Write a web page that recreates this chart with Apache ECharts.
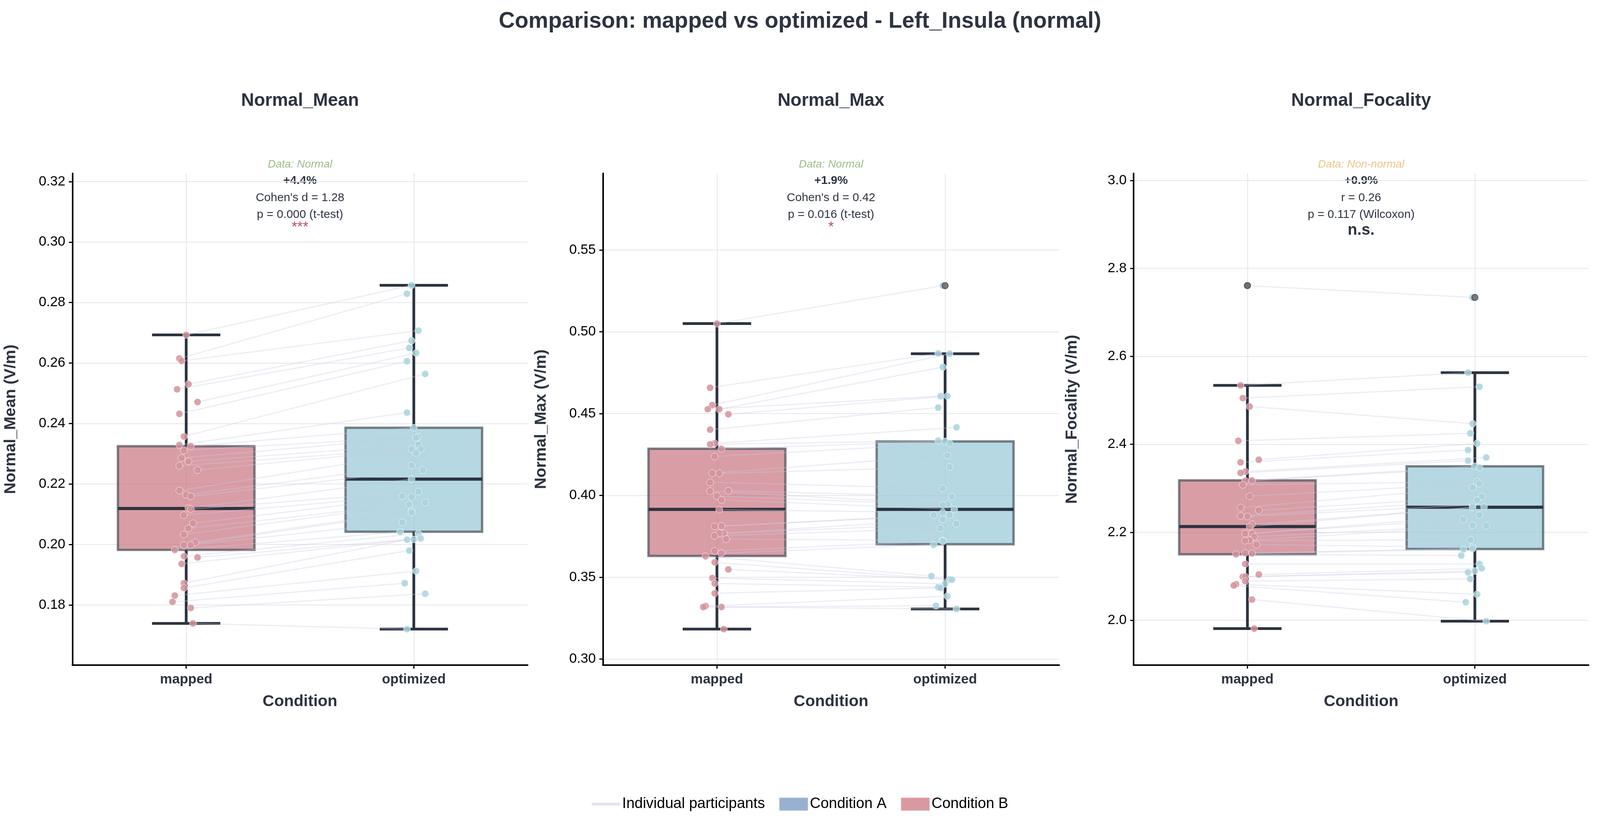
<!DOCTYPE html>
<html>
<head>
<meta charset="UTF-8">
<script src="https://cdn.jsdelivr.net/npm/echarts@6/dist/echarts.min.js"></script>
<style>
  html, body { margin: 0; padding: 0; background: #fff; overflow: hidden; }
  #chart { width: 100vw; height: 100vh; }
</style>
</head>
<body>
<div id="chart"></div>
<script>
// 数据
var categories = ['mapped', 'optimized'];
var panelTitles = ['Normal_Mean', 'Normal_Max', 'Normal_Focality'];
var meanMapped = [0.2693,0.2615,0.2607,0.2530,0.2513,0.2471,0.2432,0.2357,0.2329,0.2325,0.2311,0.2286,0.2275,0.2260,0.2246,0.2178,0.2164,0.2159,0.2120,0.2117,0.2097,0.2070,0.2053,0.2033,0.2007,0.1998,0.1998,0.1982,0.1961,0.1957,0.1936,0.1872,0.1856,0.1831,0.1810,0.1790,0.1739];
var meanOptimized = [0.2857,0.2829,0.2707,0.2674,0.2650,0.2633,0.2606,0.2564,0.2436,0.2386,0.2356,0.2353,0.2330,0.2316,0.2316,0.2303,0.2261,0.2246,0.2216,0.2175,0.2160,0.2157,0.2139,0.2131,0.2111,0.2106,0.2073,0.2041,0.2036,0.2020,0.2017,0.2016,0.1980,0.1912,0.1872,0.1837,0.1720];
var maxMapped = [0.5050,0.4658,0.4552,0.4527,0.4527,0.4496,0.4402,0.4318,0.4312,0.4285,0.4238,0.4137,0.4135,0.4080,0.4028,0.4026,0.3996,0.3973,0.3913,0.3813,0.3811,0.3768,0.3768,0.3753,0.3733,0.3661,0.3647,0.3628,0.3591,0.3548,0.3495,0.3462,0.3402,0.3324,0.3318,0.3318,0.3183];
var maxOptimized = [0.5282,0.4868,0.4866,0.4784,0.4607,0.4607,0.4537,0.4416,0.4334,0.4330,0.4318,0.4244,0.4174,0.4043,0.3993,0.3946,0.3942,0.3915,0.3895,0.3881,0.3879,0.3854,0.3827,0.3798,0.3725,0.3720,0.3698,0.3507,0.3487,0.3485,0.3460,0.3439,0.3435,0.3384,0.3326,0.3306];
var focMapped = [2.761,2.534,2.505,2.486,2.408,2.365,2.359,2.338,2.335,2.318,2.317,2.308,2.282,2.256,2.250,2.237,2.236,2.218,2.213,2.197,2.197,2.190,2.182,2.181,2.172,2.153,2.152,2.150,2.128,2.104,2.099,2.099,2.089,2.082,2.079,2.047,1.981];
var focOptimized = [2.734,2.563,2.531,2.447,2.425,2.402,2.387,2.370,2.363,2.350,2.347,2.315,2.311,2.302,2.281,2.273,2.262,2.258,2.257,2.239,2.229,2.216,2.215,2.183,2.166,2.163,2.161,2.147,2.128,2.118,2.112,2.109,2.094,2.059,2.041,1.998];
// 箱线图统计 [q1, median, q3, 下须, 上须]
var boxStats = [
  [[0.1982,0.2119,0.2325,0.1739,0.2693],[0.2042,0.2216,0.2386,0.1720,0.2857]],
  [[0.3630,0.3915,0.4285,0.3183,0.5050],[0.3702,0.3915,0.4330,0.3306,0.4866]],
  [[2.150,2.213,2.318,1.981,2.534],[2.162,2.257,2.350,1.998,2.563]]
];
var outliers = [[[],[]],[[],[0.5282]],[[2.761],[2.734]]];
var yTicks = [
  [0.18,0.20,0.22,0.24,0.26,0.28,0.30,0.32],
  [0.30,0.35,0.40,0.45,0.50,0.55],
  [2.0,2.2,2.4,2.6,2.8,3.0]
];
var yRange = [[0.1601,0.3227],[0.2963,0.5968],[1.898,3.016]];
var yDigits = [2, 2, 1];
var annotations = [
  ['Data: Normal', '+4.4%', "Cohen's d = 1.28", 'p = 0.000 (t-test)', '***'],
  ['Data: Normal', '+1.9%', "Cohen's d = 0.42", 'p = 0.016 (t-test)', '*'],
  ['Data: Non-normal', '+0.9%', 'r = 0.26', 'p = 0.117 (Wilcoxon)', 'n.s.']
];
var jitter = [0.0,-0.03,-0.02,0.01,-0.04,0.05,-0.03,-0.01,-0.03,0.02,-0.01,-0.02,0.01,-0.03,0.05,-0.03,0.0,0.02,0.01,0.02,-0.01,0.03,0.01,-0.01,0.04,-0.01,0.02,-0.05,-0.01,0.05,-0.02,-0.01,-0.01,-0.05,-0.06,0.02,0.03];

var panels = [[meanMapped, meanOptimized],[maxMapped, maxOptimized],[focMapped, focOptimized]];
var gridLeft = [203, 1691, 3180];
var gridWidth = [1277, 1280, 1276];
var TEXT = '#2d3340';
var fills = ['rgba(199,110,122,0.68)', 'rgba(150,200,213,0.7)'];
var dotColors = ['#d4939c', '#a9d3dd'];

var dom = document.getElementById('chart');
var W = dom.clientWidth, H = dom.clientHeight;
var sx = W / 4488, sy = H / 2138, k = Math.min(sx, sy);
function X(v) { return v * sx; }
function Y(v) { return v * sy; }
function F(v) { return Math.round(v * k); }

var grids = [], xAxes = [], yAxes = [], series = [], graphics = [];

panels.forEach(function (pair, p) {
  grids.push({ left: X(gridLeft[p]), width: X(gridWidth[p]), top: Y(444), height: Y(1259) });
  xAxes.push({
    gridIndex: p, type: 'value', min: -0.5, max: 1.5,
    name: 'Condition', nameLocation: 'middle', nameGap: F(80),
    nameTextStyle: { fontSize: F(45), fontWeight: 'bold', color: TEXT, fontFamily: 'Liberation Sans' },
    axisLine: { onZero: false, lineStyle: { color: '#000', width: F(4) } },
    axisTick: { show: true, length: F(10), customValues: [0, 1], lineStyle: { color: '#000', width: F(3) } },
    axisLabel: { customValues: [0, 1], margin: F(22), fontSize: F(38), fontWeight: 'bold', color: TEXT,
      fontFamily: 'Liberation Sans', formatter: function (v) { return categories[Math.round(v)]; } },
    splitLine: { show: true, lineStyle: { color: '#e6e6e6', width: F(2) } }
  });
  yAxes.push({
    gridIndex: p, type: 'value', min: yRange[p][0], max: yRange[p][1],
    name: panelTitles[p] + ' (V/m)', nameLocation: 'middle', nameGap: F(150),
    nameTextStyle: { fontSize: F(45), fontWeight: 'bold', color: TEXT, fontFamily: 'Liberation Sans' },
    axisLine: { show: true, onZero: false, lineStyle: { color: '#000', width: F(4) } },
    axisTick: { show: true, length: F(10), customValues: yTicks[p], lineStyle: { color: '#000', width: F(3) } },
    axisLabel: { customValues: yTicks[p], margin: F(20), fontSize: F(38), color: '#000', fontFamily: 'Liberation Sans',
      formatter: function (v) { return v.toFixed(yDigits[p]); } },
    splitLine: { show: true, lineStyle: { color: '#e6e6e6', width: F(2) } }
  });

  // 个体连线
  var pairs = [];
  var n = Math.min(pair[0].length, pair[1].length);
  for (var i = 0; i < n; i++) {
    pairs.push([0 + jitter[i], pair[0][i], 1 + jitter[(i + 7) % jitter.length], pair[1][i]]);
  }
  series.push({
    type: 'custom', xAxisIndex: p, yAxisIndex: p, z: 3, silent: true,
    data: pairs,
    renderItem: function (params, api) {
      var a = api.coord([api.value(0), api.value(1)]);
      var b = api.coord([api.value(2), api.value(3)]);
      return { type: 'line', shape: { x1: a[0], y1: a[1], x2: b[0], y2: b[1] },
        style: { stroke: 'rgba(200,204,226,0.35)', lineWidth: F(3) } };
    }
  });

  // 箱线
  series.push({
    type: 'custom', xAxisIndex: p, yAxisIndex: p, z: 2, silent: true,
    data: boxStats[p].map(function (s, c) { return [c].concat(s); }),
    renderItem: function (params, api) {
      var c = api.value(0);
      var q1 = api.coord([c, api.value(1)]), md = api.coord([c, api.value(2)]), q3 = api.coord([c, api.value(3)]);
      var lo = api.coord([c, api.value(4)]), hi = api.coord([c, api.value(5)]);
      var hw = api.size([0.3, 0])[0], cw = api.size([0.15, 0])[0];
      var x = q1[0];
      var dark = { stroke: TEXT, lineWidth: F(8) };
      return { type: 'group', children: [
        { type: 'line', shape: { x1: x, y1: lo[1], x2: x, y2: q1[1] }, style: dark },
        { type: 'line', shape: { x1: x, y1: q3[1], x2: x, y2: hi[1] }, style: dark },
        { type: 'line', shape: { x1: x - cw, y1: lo[1], x2: x + cw, y2: lo[1] }, style: dark },
        { type: 'line', shape: { x1: x - cw, y1: hi[1], x2: x + cw, y2: hi[1] }, style: dark },
        { type: 'rect', shape: { x: x - hw, y: q3[1], width: 2 * hw, height: q1[1] - q3[1] },
          style: { fill: fills[c], stroke: 'rgba(70,78,88,0.7)', lineWidth: F(7) } },
        { type: 'line', shape: { x1: x - hw, y1: md[1], x2: x + hw, y2: md[1] }, style: { stroke: TEXT, lineWidth: F(9) } }
      ] };
    }
  });

  // 散点
  [0, 1].forEach(function (c) {
    series.push({
      type: 'scatter', xAxisIndex: p, yAxisIndex: p, z: 4, silent: true, symbolSize: F(20),
      itemStyle: { color: dotColors[c], opacity: 0.85, borderColor: '#fff', borderWidth: F(1.5) },
      data: pair[c].map(function (v, i) { return [c + jitter[(i + c * 7) % jitter.length], v]; })
    });
    series.push({
      type: 'scatter', xAxisIndex: p, yAxisIndex: p, z: 5, silent: true, symbolSize: F(18),
      itemStyle: { color: '#5c6068', borderColor: '#3a3d44', borderWidth: F(2) },
      data: outliers[p][c].map(function (v) { return [c, v]; })
    });
  });

  // 标题与注释
  var cx = X(gridLeft[p] + gridWidth[p] / 2);
  var ann = annotations[p];
  var anColor = p === 2 ? '#e8c585' : '#9dbc87';
  function txt(y, s, fill, font) {
    graphics.push({ type: 'text', x: cx, y: Y(y), style: { text: s, fill: fill, font: font, align: 'center', verticalAlign: 'middle' } });
  }
  txt(258, panelTitles[p], TEXT, 'bold ' + F(50) + 'px "Liberation Sans"');
  txt(421, ann[0], anColor, 'italic ' + F(31) + 'px "Liberation Sans"');
  txt(463, ann[1], TEXT, 'bold ' + F(33) + 'px "Liberation Sans"');
  txt(507, ann[2], TEXT, F(33) + 'px "Liberation Sans"');
  txt(550, ann[3], TEXT, F(33) + 'px "Liberation Sans"');
  if (p === 2) txt(590, ann[4], TEXT, 'bold ' + F(44) + 'px "Liberation Sans"');
  else txt(583, ann[4], '#c0505f', F(40) + 'px "Liberation Sans"');
});

// 图例用的空系列
series.push({ name: 'Individual participants', type: 'line', xAxisIndex: 0, yAxisIndex: 0, data: [], itemStyle: { color: '#e3e5ef' }, lineStyle: { color: '#e3e5ef', width: 6 } });
series.push({ name: 'Condition A', type: 'scatter', xAxisIndex: 0, yAxisIndex: 0, data: [], itemStyle: { color: '#7f9dc4' } });
series.push({ name: 'Condition B', type: 'scatter', xAxisIndex: 0, yAxisIndex: 0, data: [], itemStyle: { color: '#cf8089' } });

var chart = echarts.init(dom);
chart.setOption({
  animation: false,
  backgroundColor: '#fff',
  title: { text: 'Comparison: mapped vs optimized - Left_Insula (normal)', left: 'center', top: Y(22),
    textStyle: { fontSize: F(62), fontWeight: 'bold', color: TEXT, fontFamily: 'Liberation Sans' } },
  legend: {
    top: Y(2035), left: 'center', itemGap: F(40), itemWidth: F(80), itemHeight: F(36),
    textStyle: { fontSize: F(42), color: '#000', fontFamily: 'Liberation Sans' },
    data: [
      { name: 'Individual participants', icon: 'path://M0,45 L100,45 L100,55 L0,55 Z' },
      { name: 'Condition A', icon: 'rect' },
      { name: 'Condition B', icon: 'rect' }
    ]
  },
  grid: grids, xAxis: xAxes, yAxis: yAxes, series: series, graphic: graphics
});
</script>
</body>
</html>
